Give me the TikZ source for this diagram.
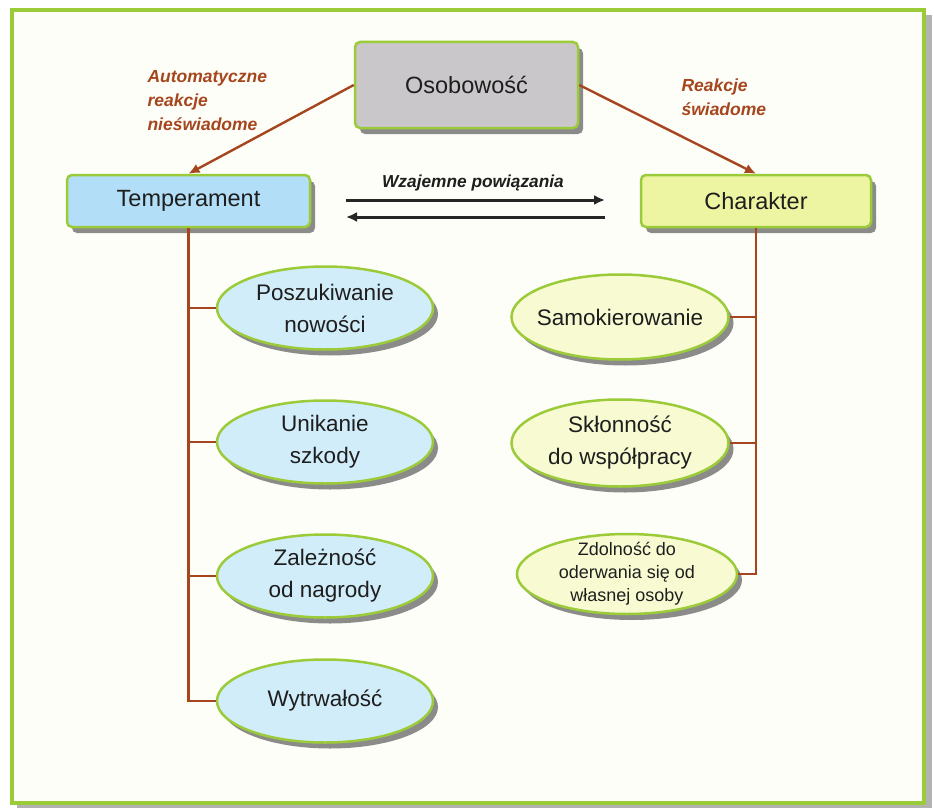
\documentclass[tikz,border=0pt]{standalone}
\usepackage{fontspec}
\setmainfont{Liberation Sans}
\usetikzlibrary{shapes.geometric,shadows,arrows.meta}
\definecolor{framec}{HTML}{9CCB3A}
\definecolor{bgc}{HTML}{FDFEF8}
\definecolor{connc}{HTML}{A5461E}
\definecolor{txtc}{HTML}{1E1E1E}
\definecolor{grayfill}{HTML}{C9C7C9}
\definecolor{bluefill}{HTML}{B2DEF7}
\definecolor{yelfill}{HTML}{EEF5A2}
\definecolor{bluell}{HTML}{D2EDFA}
\definecolor{yelll}{HTML}{F8FBD2}
\begin{document}
\begin{tikzpicture}[x=1pt,y=-1pt,
  shad/.style={drop shadow={shadow xshift=5pt,shadow yshift=-6pt,fill=black!60,opacity=.75}},
  box/.style={draw=framec, line width=2.5pt, rounded corners=5pt, shad, text=txtc,
    font=\fontsize{23.5}{26}\selectfont, inner sep=0pt},
  ell/.style={ellipse, draw=framec, line width=2.5pt, shad, inner sep=0pt},
  etxt/.style={align=center, text=txtc, font=\fontsize{22.5}{32}\selectfont},
  esmall/.style={align=center, text=txtc, font=\fontsize{18}{23}\selectfont},
  conn/.style={draw=connc, line width=2.4pt},
  lbl/.style={text=connc, align=left, font=\fontsize{17.5}{24}\selectfont\bfseries\itshape},
  tip/.style={-{Latex[length=11pt,width=10pt]}}
]
\useasboundingbox (0,0) rectangle (934,808);
\fill[white] (0,0) rectangle (934,808);
\fill[black!30] (17,15) rectangle (932,808);
\draw[framec, line width=3.5pt, fill=bgc] (12,10) rectangle (924,803);

% main boxes
\node[box, fill=grayfill, minimum width=223pt, minimum height=86pt] (oso) at (466.5,85) {Osobowość};
\node[box, fill=bluefill, minimum width=243pt, minimum height=52pt] (temp) at (188.5,201) {Temperament};
\node[box, fill=yelfill, minimum width=230pt, minimum height=52pt] (char) at (756,201) {Charakter};

% labels
\node[lbl, anchor=west] (l1) at (144,101) {Automatyczne\\reakcje\\nieświadome};
\node[lbl, anchor=west] (l2) at (678,97) {Reakcje\\świadome};
\node[text=txtc, font=\fontsize{17.3}{20}\selectfont\bfseries\itshape] (wz) at (473,183) {Wzajemne powiązania};

% top arrows
\draw[conn, tip] (oso.west) -- (temp.north);
\draw[conn, tip] (oso.east) -- (char.north);

% mutual arrows
\coordinate (a1) at (346,200);
\coordinate (a2) at (605,200);
\coordinate (b1) at (605,217);
\coordinate (b2) at (346,217);
\draw[black!85, line width=3pt, tip] (a1) -- (a2);
\draw[black!85, line width=3pt, tip] (b1) -- (b2);

% left ellipses
\node[ell, fill=bluell, minimum width=216pt, minimum height=83pt] (e1) at (325,308) {};
\node[etxt] (e1t) at (e1) {Poszukiwanie\\nowości};
\node[ell, fill=bluell, minimum width=216pt, minimum height=83pt] (e2) at (325,442) {};
\node[etxt] (e2t) at (e2) {Unikanie\\szkody};
\node[ell, fill=bluell, minimum width=216pt, minimum height=83pt] (e3) at (325,576) {};
\node[etxt] (e3t) at (e3) {Zależność\\od nagrody};
\node[ell, fill=bluell, minimum width=216pt, minimum height=83pt] (e4) at (325,701) {};
\node[etxt] (e4t) at (e4) {Wytrwałość};

% right ellipses
\node[ell, fill=yelll, minimum width=217pt, minimum height=85pt] (r1) at (620,317) {};
\node[etxt] (r1t) at (r1) {Samokierowanie};
\node[ell, fill=yelll, minimum width=217pt, minimum height=87pt] (r2) at (620,443) {};
\node[etxt] (r2t) at (r2) {Skłonność\\do współpracy};
\node[ell, fill=yelll, minimum width=220pt, minimum height=80pt] (r3) at (627,574) {};
\node[esmall] (r3t) at (r3) {Zdolność do\\oderwania się od\\własnej osoby};

% tree connectors
\draw[conn] (temp.south) |- (e4.west);
\draw[conn] (temp.south |- e1.west) -- (e1.west);
\draw[conn] (temp.south |- e2.west) -- (e2.west);
\draw[conn] (temp.south |- e3.west) -- (e3.west);
\draw[conn] (char.south) |- (r3.east);
\draw[conn] (char.south |- r1.east) -- (r1.east);
\draw[conn] (char.south |- r2.east) -- (r2.east);
\end{tikzpicture}
\end{document}
